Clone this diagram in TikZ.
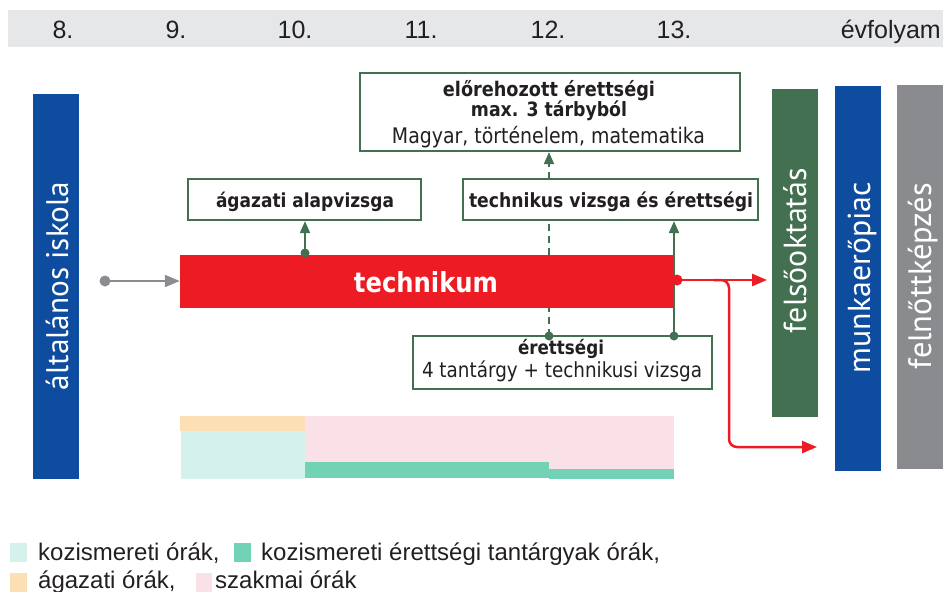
\documentclass[tikz,border=0pt]{standalone}
\usepackage{fontspec}
\setmainfont[FakeStretch=0.88]{DejaVu Sans}
\newfontfamily\hdrfont{Liberation Sans}
\newfontfamily\barfont{PT Sans}
\usetikzlibrary{arrows.meta}
\definecolor{hdrgray}{HTML}{E6E7E8}
\definecolor{tdark}{HTML}{231F20}
\definecolor{sblue}{HTML}{0E4CA0}
\definecolor{tred}{HTML}{ED1C24}
\definecolor{gdark}{HTML}{437050}
\definecolor{bgray}{HTML}{8A8B8F}
\definecolor{arrgray}{HTML}{8C8C90}
\definecolor{lorange}{HTML}{FDDFB6}
\definecolor{lteal}{HTML}{D4F2EB}
\definecolor{lpink}{HTML}{F9E1E7}
\definecolor{mteal}{HTML}{72D2B6}
\newcommand{\fitto}[2]{\resizebox{#1pt}{!}{#2}}
\begin{document}
\begin{tikzpicture}[x=1pt,y=-1pt,
  box/.style={draw=gdark, line width=2.3pt, fill=white, inner sep=0pt},
  vbar/.style={inner sep=0pt, minimum width=46pt},
  txt/.style={inner sep=0pt, anchor=base, text=tdark},
  vtxt/.style={inner sep=0pt, anchor=base, rotate=90, text=white},
  hdr/.style={inner sep=0pt, anchor=base, text=tdark, font=\hdrfont\fontsize{25}{30}\selectfont},
  leg/.style={inner sep=0pt, anchor=base west, text=tdark, font=\hdrfont\fontsize{24}{28}\selectfont},
  garrow/.style={draw=gdark, line width=2pt, -{Triangle[length=12pt,width=10pt]}},
  rarrow/.style={draw=tred, line width=2.5pt, -{Triangle[length=15pt,width=12pt]}},
  grarrow/.style={draw=arrgray, line width=2pt, -{Triangle[length=15pt,width=12pt]}},
  dashg/.style={draw=gdark, line width=2pt, dash pattern=on 7pt off 5pt},
  dotg/.style={circle, fill=gdark, inner sep=0pt, minimum size=9pt},
  dotr/.style={circle, fill=tred, inner sep=0pt, minimum size=11pt},
  dotgray/.style={circle, fill=arrgray, inner sep=0pt, minimum size=11pt}]
\useasboundingbox (0,0) rectangle (943,592);

% header band
\fill[hdrgray] (8,10) rectangle (943,47);
\node[hdr] (h8) at (63,38) {8.};
\node[hdr] (h9) at (176,38) {9.};
\node[hdr] (h10) at (295,38) {10.};
\node[hdr] (h11) at (421,38) {11.};
\node[hdr] (h12) at (548,38) {12.};
\node[hdr] (h13) at (674,38) {13.};
\node[hdr, anchor=base east] (hev) at (941,38) {évfolyam};

% vertical bars
\node[vbar, fill=sblue, minimum height=385pt] (iskola) at (56,286.5) {};
\node[vtxt] (iskolat) at (68,286) {\fitto{208}{\barfont általános iskola}};
\node[vbar, fill=gdark, minimum height=328pt] (felso) at (795,253) {};
\node[vtxt] (felsot) at (806,250.5) {\fitto{165}{\barfont felsőoktatás}};
\node[vbar, fill=sblue, minimum height=385pt] (munka) at (858,278.5) {};
\node[vtxt] (munkat) at (870,277.5) {\fitto{191}{\barfont munkaerőpiac}};
\node[vbar, fill=bgray, minimum height=384pt] (felnott) at (920,277) {};
\node[vtxt] (felnottt) at (931,276) {\fitto{186}{\barfont felnőttképzés}};

% boxes
\node[box, minimum width=380pt, minimum height=78pt] (elore) at (550,112) {};
\node[txt] (elore1) at (549,96) {\fitto{212}{\bfseries előrehozott érettségi}};
\node[txt] (elore2) at (549,116) {\fitto{156}{\bfseries max. 3 tárbyból}};
\node[txt] (elore3) at (548.5,143) {\fitto{313}{Magyar, történelem, matematika}};

% dashed connector (behind red bar and technikus box)
\coordinate (d1) at (549,336);
\draw[dashg] (d1) -- (549,308);
\draw[dashg] (549,255) -- (549,220);
\draw[dashg, -{Triangle[length=12pt,width=10pt]}] (549,179) -- (elore.south -| d1);

\node[box, minimum width=233pt, minimum height=41pt] (agazati) at (304.5,199.5) {};
\node[txt] (agazatit) at (305,207) {\fitto{178}{\bfseries ágazati alapvizsga}};
\node[box, minimum width=295pt, minimum height=41pt] (techv) at (610.5,199.5) {};
\node[txt] (techvt) at (611,207) {\fitto{284}{\bfseries technikus vizsga és érettségi}};

\node[box, minimum width=299pt, minimum height=53pt] (eretts) at (562.5,362.5) {};
\node[txt] (eretts1) at (561,354) {\fitto{86}{\bfseries érettségi}};
\node[txt] (eretts2) at (562,377) {\fitto{280}{4 tantárgy + technikusi vizsga}};

% red technikum bar
\node[fill=tred, inner sep=0pt, minimum width=494pt, minimum height=53pt] (tech) at (427,281.5) {};
\node[inner sep=0pt, anchor=base, text=white] (techt) at (426,292) {\fitto{144}{\bfseries technikum}};

% gray input arrow
\node[dotgray] (gdot) at (105,281) {};
\draw[grarrow] (gdot.center) -- (gdot.center -| tech.west);

% agazati arrow
\node[dotg] (adot) at (305,253) {};
\draw[garrow] (adot.center) -- (adot.center |- agazati.south);

% solid green from erettsegi to technikus box
\node[dotg] (sdot) at (674,336) {};
\draw[garrow] (sdot.center) -- (sdot.center |- techv.south);
\node[dotg] (ddot) at (d1) {};

% red exits
\coordinate (rt1) at (767,280);
\coordinate (rbr) at (714,280);
\coordinate (rt2) at (817,447);
\draw[tred, line width=2.5pt, rounded corners=8pt, -{Triangle[length=15pt,width=12pt]}] (rbr) -| (729,447) -- (rt2);
\node[dotr] (rdot) at (677,280) {};
\draw[rarrow] (rdot.center) -- (rt1);

% hour bars
\fill[lorange] (180,416) rectangle (305,431);
\fill[lteal] (181,431) rectangle (305,479);
\fill[lpink] (305,416) rectangle (674,469);
\fill[mteal] (305,462) rectangle (549,478);
\fill[mteal] (549,469) rectangle (674,479);

% legend
\fill[lteal] (10,543) rectangle (27,562);
\node[leg] (l1) at (38,560) {kozismereti órák,};
\fill[mteal] (234,543) rectangle (251,562);
\node[leg] (l2) at (261,560) {kozismereti érettségi tantárgyak órák,};
\fill[lorange] (10,573) rectangle (27,592);
\node[leg] (l3) at (38,588) {ágazati órák,};
\fill[lpink] (196,573) rectangle (212,592);
\node[leg] (l4) at (215,588) {szakmai órák};
\end{tikzpicture}
\end{document}
